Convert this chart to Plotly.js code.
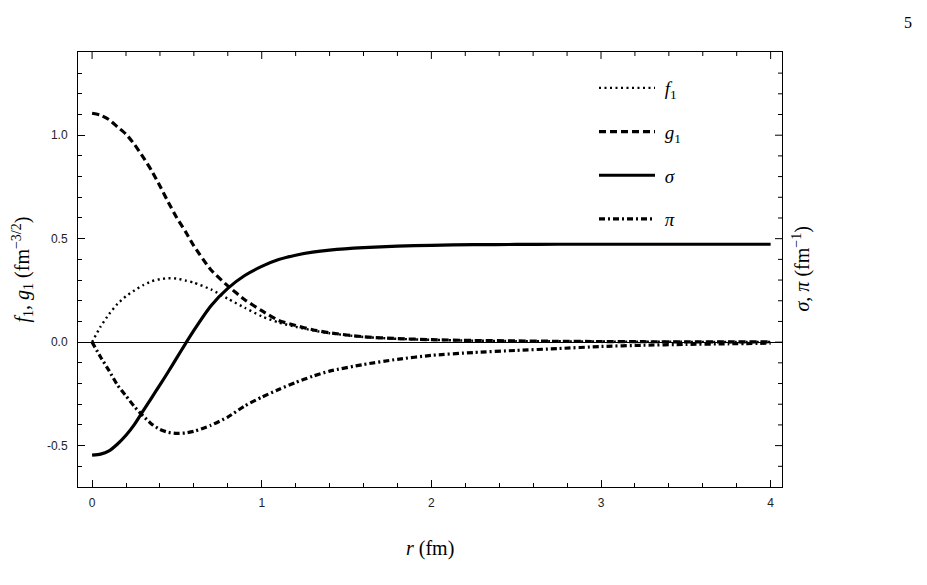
<!DOCTYPE html>
<html>
<head>
<meta charset="utf-8">
<script src="https://cdn.plot.ly/plotly-3.0.1.min.js"></script>
<style>html,body{margin:0;padding:0;background:#fff;}#chart{width:927px;height:585px;}</style>
</head>
<body>
<div id="chart"></div>
<script>
// radial grid (fm)
const r = [0, 0.05, 0.1, 0.15, 0.2, 0.25, 0.3, 0.35, 0.4, 0.45, 0.5, 0.55, 0.6, 0.7, 0.8, 0.9, 1.0, 1.1, 1.2, 1.3, 1.4, 1.6, 1.8, 2.0, 2.25, 2.5, 2.75, 3.0, 3.25, 3.5, 3.75, 4.0];
const f1 = [0, 0.075, 0.135, 0.185, 0.222, 0.25, 0.275, 0.294, 0.304, 0.309, 0.307, 0.298, 0.287, 0.255, 0.21, 0.166, 0.125, 0.095, 0.074, 0.057, 0.043, 0.025, 0.016, 0.011, 0.007, 0.005, 0.004, 0.003, 0.002, 0.0015, 0.001, 0.001];
const g1 = [1.106, 1.097, 1.075, 1.04, 1.005, 0.955, 0.895, 0.83, 0.755, 0.675, 0.6, 0.535, 0.465, 0.35, 0.272, 0.205, 0.152, 0.105, 0.08, 0.06, 0.045, 0.026, 0.017, 0.012, 0.008, 0.006, 0.004, 0.003, 0.002, 0.0015, 0.001, 0.001];
const sigma = [-0.546, -0.541, -0.525, -0.492, -0.45, -0.397, -0.333, -0.27, -0.207, -0.142, -0.075, -0.008, 0.057, 0.175, 0.26, 0.322, 0.366, 0.399, 0.42, 0.435, 0.445, 0.457, 0.464, 0.468, 0.471, 0.472, 0.473, 0.473, 0.473, 0.473, 0.473, 0.473];
const piField = [0, -0.072, -0.138, -0.208, -0.26, -0.312, -0.356, -0.395, -0.422, -0.436, -0.441, -0.439, -0.431, -0.402, -0.362, -0.308, -0.266, -0.229, -0.195, -0.165, -0.14, -0.108, -0.083, -0.064, -0.05, -0.04, -0.031, -0.021, -0.015, -0.011, -0.008, -0.005];

// tick positions and labels
const xTickVals = [0, 1, 2, 3, 4];
const xTickText = ['0', '1', '2', '3', '4'];
const xMinorVals = [0.2, 0.4, 0.6, 0.8, 1.2, 1.4, 1.6, 1.8, 2.2, 2.4, 2.6, 2.8, 3.2, 3.4, 3.6, 3.8];
const yTickVals = [-0.5, 0, 0.5, 1.0];
const yTickText = ['-0.5', '0.0', '0.5', '1.0'];
const yMinorVals = [-0.6, -0.4, -0.3, -0.2, -0.1, 0.1, 0.2, 0.3, 0.4, 0.6, 0.7, 0.8, 0.9, 1.1, 1.2, 1.3];

const names = ['&nbsp;<i>f</i><sub>1</sub>', '&nbsp;<i>g</i><sub>1</sub>', '&nbsp;<i>σ</i><sub>&nbsp;</sub>', '&nbsp;<i>π</i><sub>&nbsp;</sub>'];

const serif = 'Liberation Serif, DejaVu Serif, serif';
const sans = 'Liberation Sans, Arial, sans-serif';

const traces = [
  {x: r, y: f1, name: names[0], legendgroup: 'a', mode: 'lines', line: {color: '#000', width: 2.4, dash: '2px,3.5px', shape: 'spline', smoothing: 0.6}},
  {x: r, y: g1, name: names[1], legendgroup: 'b', mode: 'lines', line: {color: '#000', width: 3.2, dash: '7px,4px', shape: 'spline', smoothing: 0.6}},
  {x: r, y: sigma, name: names[2], legendgroup: 'c', mode: 'lines', line: {color: '#000', width: 3.2, shape: 'spline', smoothing: 0.6}},
  {x: r, y: piField, name: names[3], legendgroup: 'd', mode: 'lines', line: {color: '#000', width: 3.2, dash: '6px,3px,2px,3px', shape: 'spline', smoothing: 0.6}}
];

const L = 78, R = 782, T = 52, B = 487, W = 927, H = 585;
const PW = R - L, PH = B - T;
const px = v => (v - L) / PW;
const py = v => (B - v) / PH;

const xRange = [-0.083, 4.067];
const yRange = [-0.7, 1.402];
const MAJ = 7, MIN = 4;

// mirrored ticks on top and right frame edges
const shapes = [];
xTickVals.forEach(v => shapes.push({type: 'line', xref: 'x', yref: 'paper', x0: v, x1: v, y0: 1, y1: 1 - MAJ / PH, line: {color: '#000', width: 1}}));
xMinorVals.forEach(v => shapes.push({type: 'line', xref: 'x', yref: 'paper', x0: v, x1: v, y0: 1, y1: 1 - MIN / PH, line: {color: '#000', width: 1}}));
yTickVals.forEach(v => shapes.push({type: 'line', xref: 'paper', yref: 'y', x0: 1, x1: 1 - MAJ / PW, y0: v, y1: v, line: {color: '#000', width: 1}}));
yMinorVals.forEach(v => shapes.push({type: 'line', xref: 'paper', yref: 'y', x0: 1, x1: 1 - MIN / PW, y0: v, y1: v, line: {color: '#000', width: 1}}));

const layout = {
  width: W, height: H,
  margin: {l: L, r: W - R, t: T, b: H - B, pad: 0},
  paper_bgcolor: '#fff', plot_bgcolor: '#fff',
  showlegend: true,
  legend: {
    x: px(594), y: py(69), xanchor: 'left', yanchor: 'top',
    bgcolor: 'rgba(0,0,0,0)', borderwidth: 0,
    font: {family: serif, size: 19, color: '#000'},
    traceorder: 'grouped', tracegroupgap: 16, itemwidth: 56
  },
  xaxis: {
    range: xRange,
    tickvals: xTickVals, ticktext: xTickText,
    ticks: 'inside', ticklen: MAJ, tickwidth: 1, tickcolor: '#000',
    minor: {tickvals: xMinorVals, ticks: 'inside', ticklen: MIN, tickcolor: '#000', tickwidth: 1},
    showline: true, linecolor: '#000', linewidth: 1, mirror: true,
    showgrid: false, zeroline: false, ticklabelstandoff: 5,
    tickfont: {family: sans, size: 12, color: '#222'}
  },
  yaxis: {
    range: yRange,
    tickvals: yTickVals, ticktext: yTickText,
    ticks: 'inside', ticklen: MAJ, tickwidth: 1, tickcolor: '#000',
    minor: {tickvals: yMinorVals, ticks: 'inside', ticklen: MIN, tickcolor: '#000', tickwidth: 1},
    showline: true, linecolor: '#000', linewidth: 1, mirror: true,
    showgrid: false, zeroline: true, zerolinecolor: '#000', zerolinewidth: 1, ticklabelstandoff: 7,
    tickfont: {family: sans, size: 12, color: '#222'}
  },
  shapes: shapes,
  annotations: [
    {xref: 'paper', yref: 'paper', x: 0.5, y: py(548), text: '<i>r</i> (fm)', showarrow: false, font: {family: serif, size: 20, color: '#000'}, xanchor: 'center', yanchor: 'middle'},
    {xref: 'paper', yref: 'paper', x: px(22), y: 0.5, text: '<i>f</i><sub>1</sub>, <i>g</i><sub>1</sub> (fm<sup>−3/2</sup>)', textangle: -90, showarrow: false, font: {family: serif, size: 20, color: '#000'}, xanchor: 'center', yanchor: 'middle'},
    {xref: 'paper', yref: 'paper', x: px(801), y: 0.5, text: '<i>σ</i>, <i>π</i> (fm<sup>−1</sup>)', textangle: -90, showarrow: false, font: {family: serif, size: 20, color: '#000'}, xanchor: 'center', yanchor: 'middle'},
    {xref: 'paper', yref: 'paper', x: px(908), y: py(22), text: '5', showarrow: false, font: {family: serif, size: 16, color: '#000'}, xanchor: 'center', yanchor: 'middle'}
  ]
};

Plotly.newPlot('chart', traces, layout, {staticPlot: true, displayModeBar: false});
</script>
</body>
</html>
